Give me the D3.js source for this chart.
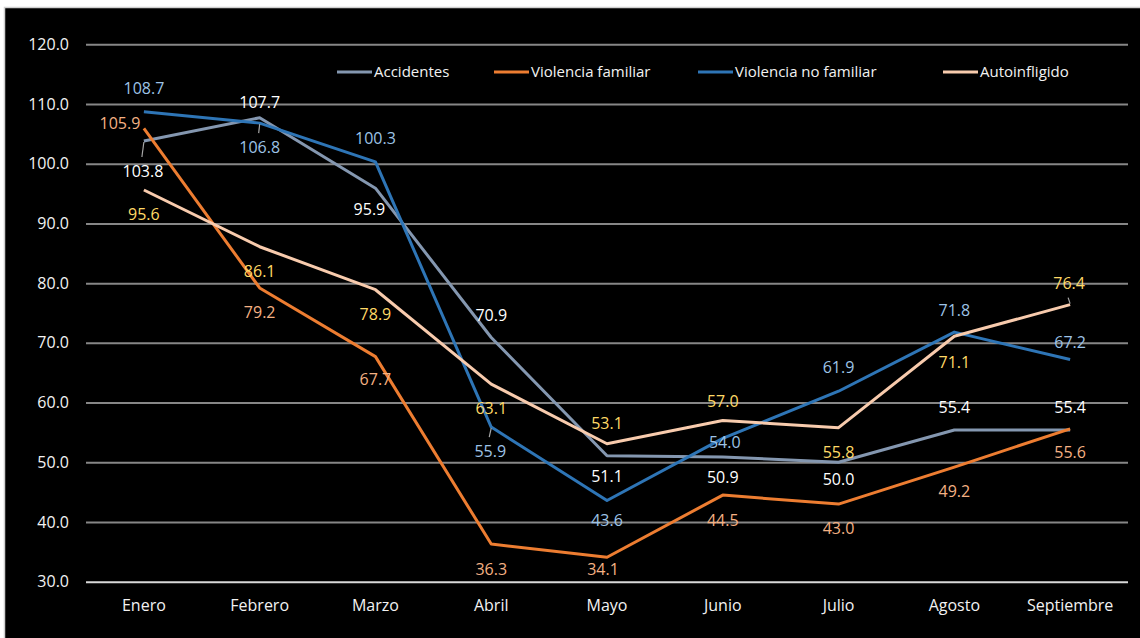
<!DOCTYPE html>
<html>
<head>
<meta charset="utf-8">
<script src="https://cdn.jsdelivr.net/npm/d3@7"></script>
<style>
	body { margin: 0; background: #fff; }
	text { font-family: "Open Sans", sans-serif; }
</style>
</head>
<body>
<script>

// months and series
var meses = ['Enero', 'Febrero', 'Marzo', 'Abril', 'Mayo', 'Junio', 'Julio', 'Agosto', 'Septiembre'];
var yTicks = [30, 40, 50, 60, 70, 80, 90, 100, 110, 120];

var accidentes = [103.8, 107.7, 95.9, 70.9, 51.1, 50.9, 50.0, 55.4, 55.4];
var violenciaFamiliar = [105.9, 79.2, 67.7, 36.3, 34.1, 44.5, 43.0, 49.2, 55.6];
var violenciaNoFamiliar = [108.7, 106.8, 100.3, 55.9, 43.6, 54.0, 61.9, 71.8, 67.2];
var autoinfligido = [95.6, 86.1, 78.9, 63.1, 53.1, 57.0, 55.8, 71.1, 76.4];

// where each data label sits relative to its point (px)
var labelDy = [
	[30, -15, 21, -22, 21, 20, 17, -23, -23],
	[-5, 24, 23, 25, 12, 25, 24, 24, 24],
	[-23, 24, -24, 24, 20, 4, -24, -22, -17],
	[24, 25, 25, 24, -20, -19, 25, 26, -21]
];
var labelDx = [
	[-1, 0, -6, 0, 0, 0, 0, 0, 0],
	[-24, 0, 0, 0, -4, 0, 0, 0, 0],
	[0, 0, 0, -1, 0, 2, 0, 0, 0],
	[0, 0, 0, 0, 0, 0, 0, 0, -1]
];
var leaders = [
	[1, 0, 0, 0, 0, 0, 0, 0, 0],
	[0, 0, 0, 0, 0, 0, 0, 0, 0],
	[0, 1, 0, 1, 0, 0, 0, 0, 0],
	[0, 0, 0, 0, 0, 0, 0, 0, 1]
];

(function(){

	var w = 1140;
	var h = 638;

	var series = [
		{name: 'Accidentes', values: accidentes, color: '#8497b0', label: '#ffffff'},
		{name: 'Violencia familiar', values: violenciaFamiliar, color: '#ed7d31', label: '#f4b183'},
		{name: 'Violencia no familiar', values: violenciaNoFamiliar, color: '#2e75b6', label: '#9dc3e6'},
		{name: 'Autoinfligido', values: autoinfligido, color: '#f8cbad', label: '#ffd966'}
	];

	var svg = d3.select('body')
				.append('svg')
				.attr('width', w)
				.attr('height', h);

	// black chart area with light frame
	svg.append('rect')
		.attr('x', 4.5)
		.attr('y', 7.5)
		.attr('width', w)
		.attr('height', h)
		.attr('fill', '#000')
		.attr('stroke', '#d0d0d0')
		.attr('stroke-width', 1.5);

	var left = 86, right = 1128, top = 44.3, bottom = 581.7;

	var x = d3.scaleBand()
		.domain(meses)
		.range([left, right])
		.padding(0);

	var y = d3.scaleLinear()
		.domain([30, 120])
		.range([bottom, top]);

	function cx(i){ return x(meses[i]) + x.bandwidth() / 2; }

	// gridlines + y labels
	var yAxis = svg.append('g')
		.attr('transform', 'translate(' + left + ',0)')
		.call(d3.axisLeft(y)
			.tickValues(yTicks)
			.tickFormat(d3.format('.1f'))
			.tickSize(-(right - left))
			.tickPadding(17));

	yAxis.select('.domain').remove();
	yAxis.selectAll('.tick line')
		.attr('stroke', function(d){ return d === 30 ? '#d9d9d9' : '#868686'; })
		.attr('stroke-width', 2);
	yAxis.selectAll('.tick text')
		.attr('fill', '#f2f2f2')
		.style('font-size', '16px');

	// x labels
	var xAxis = svg.append('g')
		.attr('transform', 'translate(0,' + bottom + ')')
		.call(d3.axisBottom(x).tickSize(0).tickPadding(18));

	xAxis.select('.domain').remove();
	xAxis.selectAll('.tick text')
		.attr('fill', '#f2f2f2')
		.style('font-size', '16px');

	var line = d3.line()
		.x(function(d, i){ return cx(i); })
		.y(function(d){ return y(d); });

	series.forEach(function(s){
		svg.append('path')
			.datum(s.values)
			.attr('d', line)
			.attr('fill', 'none')
			.attr('stroke', s.color)
			.attr('stroke-width', 3)
			.attr('stroke-linejoin', 'round');
	});

	// leader lines
	series.forEach(function(s, k){
		s.values.forEach(function(v, i){
			if(!leaders[k][i]) return;
			var dy = labelDy[k][i];
			var sign = dy > 0 ? 1 : -1;
			svg.append('line')
				.attr('x1', cx(i))
				.attr('y1', y(v) + sign * 1)
				.attr('x2', cx(i) + labelDx[k][i] - 1)
				.attr('y2', y(v) + dy - sign * 14)
				.attr('stroke', '#a6a6a6')
				.attr('stroke-width', 1.2);
		});
	});

	// data labels
	series.forEach(function(s, k){
		svg.selectAll('.lbl' + k)
			.data(s.values)
			.enter()
			.append('text')
			.attr('class', 'lbl' + k)
			.attr('x', function(d, i){ return cx(i) + labelDx[k][i]; })
			.attr('y', function(d, i){ return y(d) + labelDy[k][i]; })
			.attr('dy', '0.35em')
			.attr('text-anchor', 'middle')
			.attr('fill', s.label)
			.style('font-size', '16px')
			.text(function(d){ return d3.format('.1f')(d); });
	});

	// legend
	var legendX = [337, 494, 698, 943];
	var legend = svg.selectAll('.legend')
		.data(series)
		.enter()
		.append('g')
		.attr('class', 'legend')
		.attr('transform', function(d, i){ return 'translate(' + legendX[i] + ',72)'; });

	legend.append('line')
		.attr('x1', 0)
		.attr('x2', 35)
		.attr('stroke', function(d){ return d.color; })
		.attr('stroke-width', 3);

	legend.append('text')
		.attr('x', 37)
		.attr('dy', '0.35em')
		.attr('fill', '#f2f2f2')
		.style('font-size', '15px')
		.text(function(d){ return d.name; });

})();

</script>
</body>
</html>
